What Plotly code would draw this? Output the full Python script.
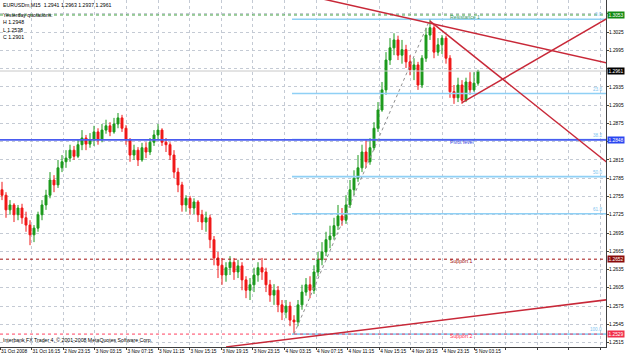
import plotly.graph_objects as go

# ---------------- data ----------------
first_open = 1.2766
close = [1.2757, 1.2733, 1.2741, 1.2725, 1.2736, 1.2720, 1.2708, 1.2692, 1.2703, 1.2725,
         1.2741, 1.2757, 1.2782, 1.2774, 1.2802, 1.2812, 1.2818, 1.2831, 1.2821, 1.2840,
         1.2851, 1.2841, 1.2848, 1.2861, 1.2848, 1.2864, 1.2871, 1.2861, 1.2874, 1.2884,
         1.2867, 1.2848, 1.2823, 1.2831, 1.2815, 1.2835, 1.2828, 1.2844, 1.2856, 1.2864,
         1.2844, 1.2840, 1.2823, 1.2795, 1.2774, 1.2741, 1.2752, 1.2736, 1.2746, 1.2725,
         1.2713, 1.2720, 1.2684, 1.2654, 1.2642, 1.2626, 1.2638, 1.2647, 1.2631, 1.2641,
         1.2618, 1.2601, 1.2610, 1.2626, 1.2638, 1.2631, 1.2610, 1.2593, 1.2601, 1.2577,
         1.2565, 1.2575, 1.2552, 1.2549, 1.2577, 1.2598, 1.2610, 1.2601, 1.2631, 1.2651,
         1.2664, 1.2684, 1.2690, 1.2707, 1.2723, 1.2716, 1.2741, 1.2766, 1.2785, 1.2802,
         1.2828, 1.2812, 1.2835, 1.2867, 1.2897, 1.2930, 1.2979, 1.2999, 1.3012, 1.2987,
         1.2996, 1.2976, 1.2963, 1.2971, 1.2938, 1.2982, 1.3020, 1.3032, 1.2992, 1.3004,
         1.3015, 1.2982, 1.2927, 1.2917, 1.2938, 1.2913, 1.2943, 1.2930, 1.2941, 1.2961]
high = [1.2779, 1.2762, 1.2749, 1.2744, 1.2741, 1.2743, 1.2730, 1.2716, 1.2708, 1.2730,
        1.2749, 1.2766, 1.2795, 1.2790, 1.2815, 1.2823, 1.2831, 1.2840, 1.2838, 1.2848,
        1.2864, 1.2856, 1.2859, 1.2871, 1.2867, 1.2874, 1.2881, 1.2877, 1.2884, 1.2892,
        1.2889, 1.2872, 1.2851, 1.2840, 1.2836, 1.2843, 1.2844, 1.2851, 1.2864, 1.2874,
        1.2867, 1.2851, 1.2844, 1.2831, 1.2802, 1.2779, 1.2757, 1.2756, 1.2752, 1.2749,
        1.2733, 1.2730, 1.2725, 1.2690, 1.2664, 1.2654, 1.2647, 1.2657, 1.2654, 1.2651,
        1.2647, 1.2624, 1.2621, 1.2638, 1.2647, 1.2654, 1.2638, 1.2618, 1.2611, 1.2608,
        1.2585, 1.2585, 1.2582, 1.2560, 1.2585, 1.2610, 1.2621, 1.2624, 1.2642, 1.2664,
        1.2680, 1.2697, 1.2707, 1.2720, 1.2741, 1.2736, 1.2757, 1.2782, 1.2798, 1.2823,
        1.2840, 1.2848, 1.2851, 1.2877, 1.2910, 1.2943, 1.2992, 1.3015, 1.3023, 1.3019,
        1.3012, 1.3004, 1.2987, 1.2982, 1.2976, 1.2987, 1.3032, 1.3046, 1.3037, 1.3015,
        1.3020, 1.3019, 1.2987, 1.2938, 1.2950, 1.2946, 1.2950, 1.2959, 1.2959, 1.2963]
low = [1.2749, 1.2720, 1.2725, 1.2713, 1.2716, 1.2710, 1.2697, 1.2675, 1.2680, 1.2697,
       1.2716, 1.2733, 1.2752, 1.2762, 1.2769, 1.2795, 1.2802, 1.2812, 1.2815, 1.2818,
       1.2831, 1.2831, 1.2835, 1.2838, 1.2840, 1.2844, 1.2858, 1.2854, 1.2858, 1.2867,
       1.2861, 1.2840, 1.2812, 1.2815, 1.2805, 1.2812, 1.2818, 1.2823, 1.2838, 1.2848,
       1.2838, 1.2828, 1.2815, 1.2785, 1.2762, 1.2730, 1.2730, 1.2725, 1.2726, 1.2713,
       1.2700, 1.2697, 1.2670, 1.2642, 1.2621, 1.2610, 1.2615, 1.2626, 1.2618, 1.2621,
       1.2601, 1.2588, 1.2585, 1.2598, 1.2615, 1.2618, 1.2598, 1.2582, 1.2577, 1.2565,
       1.2552, 1.2555, 1.2542, 1.2529, 1.2542, 1.2569, 1.2592, 1.2588, 1.2595, 1.2624,
       1.2642, 1.2657, 1.2670, 1.2684, 1.2700, 1.2707, 1.2710, 1.2736, 1.2757, 1.2779,
       1.2795, 1.2802, 1.2807, 1.2831, 1.2861, 1.2894, 1.2922, 1.2971, 1.2987, 1.2979,
       1.2973, 1.2966, 1.2954, 1.2946, 1.2930, 1.2933, 1.2976, 1.3012, 1.2982, 1.2986,
       1.2989, 1.2973, 1.2917, 1.2907, 1.2910, 1.2907, 1.2910, 1.2922, 1.2927, 1.2937]
open_ = [first_open] + close[:-1]
bars = list(range(len(close)))

time_labels = ["31 Oct 2008", "31 Oct 16:15", "2 Nov 23:15", "3 Nov 03:15", "3 Nov 07:15",
               "3 Nov 11:15", "3 Nov 15:15", "3 Nov 19:15", "3 Nov 23:15", "4 Nov 03:15",
               "4 Nov 07:15", "4 Nov 11:15", "4 Nov 15:15", "4 Nov 19:15", "4 Nov 23:15",
               "5 Nov 03:15"]
label_step_bars = 7.9
n_grid_cols = 20

price_ticks = [1.2515, 1.2545, 1.2575, 1.2605, 1.2635, 1.2665, 1.2695, 1.2725, 1.2755,
               1.2785, 1.2815, 1.2845, 1.2875, 1.2905, 1.2935, 1.2965, 1.2995, 1.3025, 1.3055]
hidden_ticks = [1.2845, 1.2965, 1.3055]   # covered by the price boxes
y_min, y_max = 1.25078, 1.30776
x_min, x_max = -0.5, 151.0

fib_low_bar, fib_low = 73, 1.2529
fib_high_bar, fib_high = 107, 1.3046
fib_levels = [0.0, 23.6, 38.2, 50.0, 61.8, 100.0]
fib_start_bar = 72.5

resistance1 = 1.3053
pivot = 1.2848
support1 = 1.2652
support2 = 1.2529
bid = 1.2961

# trend lines: (bar1, price1, bar2, price2)
trend_lines = [
    (56, 1.2508, 152, 1.2586),
    (75, 1.3087, 152, 1.2973),
    (107, 1.3043, 152, 1.2807),
    (115, 1.2909, 152, 1.3050),
]

header = "EURUSDm,M15  1.2941 1.2963 1.2937 1.2961"
yesterday = ["Yesterday quotations:", "H 1.2948", "L 1.2538", "C 1.2901"]
footer = "Interbank FX Trader 4, \u00a9 2001-2008 MetaQuotes Software Corp."

# ---------------- figure ----------------
FONT = "Liberation Sans"
FS = 5.2
AX_FS = 4.8
fig = go.Figure()

def hline(price, color, width, dash="solid", x0=x_min, x1=x_max + 2):
    fig.add_trace(go.Scatter(x=[x0, x1], y=[price, price], mode="lines",
                             line=dict(color=color, width=width, dash=dash),
                             hoverinfo="skip", showlegend=False))

# fibo levels (light blue)
fib_prices = [fib_high - lv / 100.0 * (fib_high - fib_low) for lv in fib_levels]
for p in fib_prices:
    hline(p, "#8fd0f5", 1.6, x0=fib_start_bar)

# level lines
hline(bid, "#c8c8c8", 1)
hline(resistance1, "#3a9a3a", 1, "dot")
hline(support1, "#a01010", 1, "dot")
hline(support2, "#ff4060", 1, "dot")
hline(pivot, "#4a5cf0", 1.8)

# fibo diagonal
fig.add_trace(go.Scatter(x=[fib_low_bar, fib_high_bar], y=[fib_low, fib_high], mode="lines",
                         line=dict(color="#909090", width=1, dash="dot"),
                         hoverinfo="skip", showlegend=False))

# candles
fig.add_trace(go.Candlestick(
    x=bars, open=open_, high=high, low=low, close=close,
    increasing=dict(line=dict(color="#1c9a1c", width=1), fillcolor="#1c9a1c"),
    decreasing=dict(line=dict(color="#f01818", width=1), fillcolor="#f01818"),
    whiskerwidth=0, showlegend=False, hoverinfo="skip"))

# trend lines
for b1, p1, b2, p2 in trend_lines:
    fig.add_trace(go.Scatter(x=[b1, b2], y=[p1, p2], mode="lines",
                             line=dict(color="#c82838", width=1.5),
                             hoverinfo="skip", showlegend=False))

ann = []
# level texts
for txt, price, col in [("Resistance 1", resistance1, "#3a9a6a"), ("Pivot level", pivot, "#3a4ae0"),
                        ("Support 1", support1, "#a01010"), ("Support 2", support2, "#ff3050")]:
    ann.append(dict(x=111.5, y=price, xref="x", yref="y", text=txt, showarrow=False,
                    xanchor="left", yanchor="middle", yshift=-2,
                    font=dict(family=FONT, size=FS, color=col)))
# fibo labels
for lv, p in zip(fib_levels, fib_prices):
    ann.append(dict(x=1, y=p, xref="paper", yref="y", text=f"{lv:.1f}", showarrow=False,
                    xanchor="right", yanchor="bottom", xshift=-2,
                    font=dict(family=FONT, size=4.6, color="#7cc4f0")))
# price boxes
for price, col in [(resistance1, "#128a12"), (bid, "#000000"), (pivot, "#2a46f0"),
                   (support1, "#8a0a0a"), (support2, "#f0304a")]:
    ann.append(dict(x=1, y=price, xref="paper", yref="y", text=f"{price:.4f}", showarrow=False,
                    xanchor="left", yanchor="middle", xshift=1, bgcolor=col, borderpad=0.5,
                    font=dict(family=FONT, size=AX_FS, color="white")))
# header texts
ann.append(dict(x=0, y=1, xref="paper", yref="paper", text=header, showarrow=False,
                xanchor="left", yanchor="top", xshift=1, yshift=0,
                font=dict(family=FONT, size=FS, color="black")))
for k, t in enumerate(yesterday):
    ann.append(dict(x=0, y=1, xref="paper", yref="paper", text=t, showarrow=False,
                    xanchor="left", yanchor="top", xshift=1, yshift=-10 - 7.3 * k,
                    font=dict(family=FONT, size=FS, color="black")))
ann.append(dict(x=0, y=0, xref="paper", yref="paper", text=footer, showarrow=False,
                xanchor="left", yanchor="bottom", xshift=1, yshift=2,
                font=dict(family=FONT, size=FS, color="black")))

tickvals = [x_min + label_step_bars * k for k in range(n_grid_cols)]
ticktext = time_labels + [""] * (n_grid_cols - len(time_labels))
ytext = ["" if t in hidden_ticks else f"{t:.4f}" for t in price_ticks]

fig.update_layout(
    width=625, height=355,
    margin=dict(l=0, r=19, t=0, b=8),
    paper_bgcolor="white", plot_bgcolor="white",
    annotations=ann,
    showlegend=False,
    xaxis=dict(range=[x_min, x_max], tickvals=tickvals, ticktext=ticktext, tickangle=0,
               automargin=False,
               ticklabelposition="outside right", ticks="outside", ticklen=2, tickcolor="#404040",
               ticklabelstandoff=-1,
               showgrid=True, gridcolor="#c4cad4", griddash="dot", gridwidth=1,
               showline=True, linecolor="#404040", linewidth=1, zeroline=False,
               rangeslider=dict(visible=False),
               tickfont=dict(family=FONT, size=AX_FS, color="black")),
    yaxis=dict(range=[y_min, y_max], side="right", tickvals=price_ticks, ticktext=ytext,
               automargin=False,
               ticks="outside", ticklen=2, tickcolor="#404040",
               ticklabelstandoff=-1,
               showgrid=True, gridcolor="#c4cad4", griddash="dot", gridwidth=1,
               showline=True, linecolor="#404040", linewidth=1, zeroline=False,
               tickfont=dict(family=FONT, size=AX_FS, color="black")),
)

fig.write_html("out.html")
